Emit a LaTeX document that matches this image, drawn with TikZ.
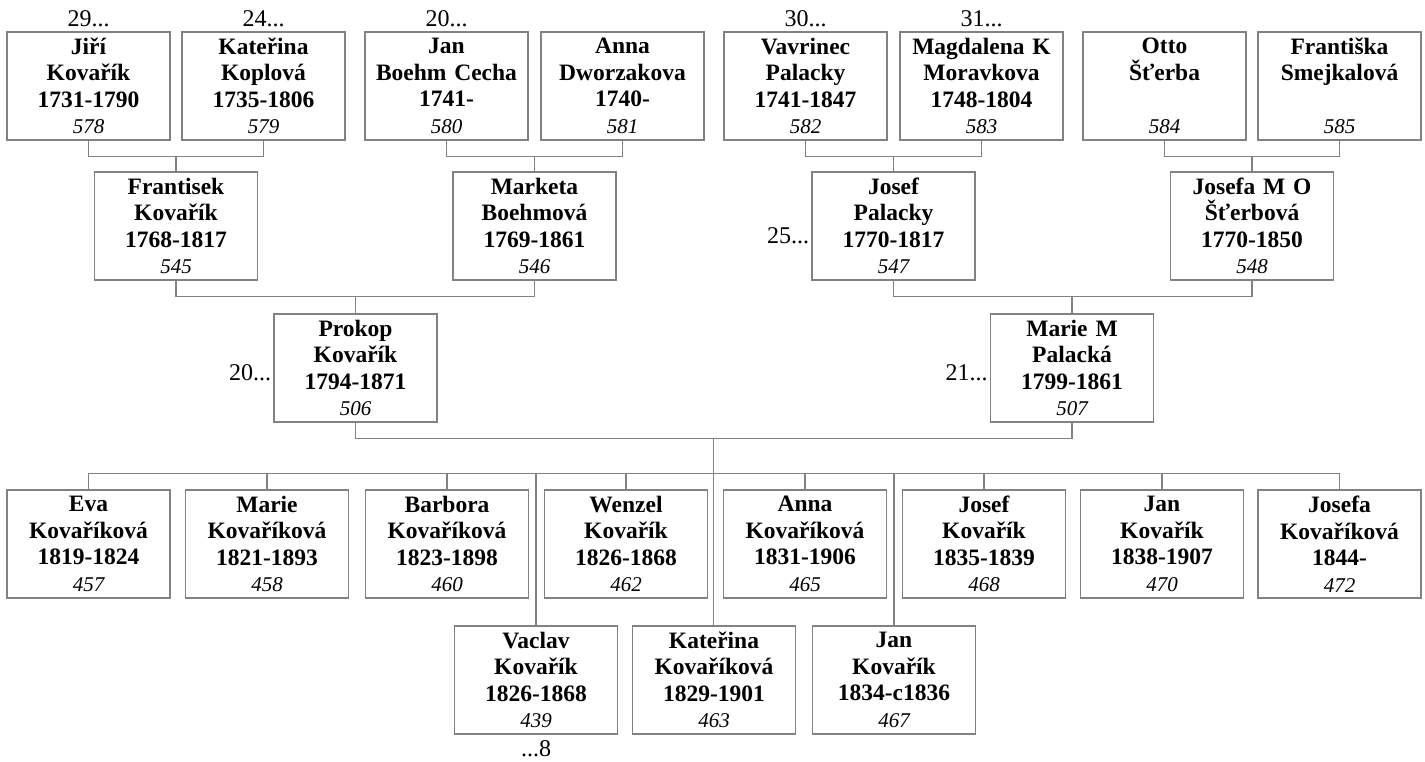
\documentclass[tikz,border=0pt]{standalone}
\usepackage{fontspec}
\setmainfont{Liberation Serif}
\usetikzlibrary{calc}
\newcommand{\who}[4]{#1\\#2\\#3\\{\mdseries\itshape\fontsize{21}{26.5}\selectfont #4}}
\begin{document}
\begin{tikzpicture}[x=1pt, y=-1pt,
  person/.style={draw=linegray, line width=1.2pt, minimum width=163pt, minimum height=108pt,
    text width=157pt, align=center, inner sep=0pt, font=\fontsize{23.5}{26.5}\selectfont\bfseries},
  link/.style={draw=linegray, line width=1.2pt},
  more/.style={font=\fontsize{24}{28}\selectfont, inner sep=2pt}]
  \definecolor{linegray}{RGB}{130,130,130}
  \useasboundingbox (0,0) rectangle (1425,761);
  % great-grandparents
  \node[person] (n578) at (88.5,86) {\who{Jiří}{Kovařík}{1731-1790}{578}};
  \node[person] (n579) at (263.5,86) {\who{Kateřina}{Koplová}{1735-1806}{579}};
  \node[person] (n580) at (446.5,86) {\who{Jan}{Boehm Cecha}{1741-}{580}};
  \node[person] (n581) at (622.5,86) {\who{Anna}{Dworzakova}{1740-}{581}};
  \node[person] (n582) at (805.5,86) {\who{Vavrinec}{Palacky}{1741-1847}{582}};
  \node[person] (n583) at (981.5,86) {\who{Magdalena K}{Moravkova}{1748-1804}{583}};
  \node[person] (n584) at (1164.5,86) {\who{Otto}{Šťerba}{~}{584}};
  \node[person] (n585) at (1339.5,86) {\who{Františka}{Smejkalová}{~}{585}};
  % grandparents
  \node[person] (n545) at (176,226) {\who{Frantisek}{Kovařík}{1768-1817}{545}};
  \node[person] (n546) at (534.5,226) {\who{Marketa}{Boehmová}{1769-1861}{546}};
  \node[person] (n547) at (893.5,226) {\who{Josef}{Palacky}{1770-1817}{547}};
  \node[person] (n548) at (1252,226) {\who{Josefa M O}{Šťerbová}{1770-1850}{548}};
  % parents
  \node[person] (n506) at (355.5,368) {\who{Prokop}{Kovařík}{1794-1871}{506}};
  \node[person] (n507) at (1072,368) {\who{Marie M}{Palacká}{1799-1861}{507}};
  % children
  \node[person] (n457) at (88.5,544) {\who{Eva}{Kovaříková}{1819-1824}{457}};
  \node[person] (n458) at (267,544) {\who{Marie}{Kovaříková}{1821-1893}{458}};
  \node[person] (n460) at (447,544) {\who{Barbora}{Kovaříková}{1823-1898}{460}};
  \node[person] (n462) at (626,544) {\who{Wenzel}{Kovařík}{1826-1868}{462}};
  \node[person] (n465) at (805,544) {\who{Anna}{Kovaříková}{1831-1906}{465}};
  \node[person] (n468) at (984,544) {\who{Josef}{Kovařík}{1835-1839}{468}};
  \node[person] (n470) at (1162,544) {\who{Jan}{Kovařík}{1838-1907}{470}};
  \node[person] (n472) at (1339.5,544) {\who{Josefa}{Kovaříková}{1844-}{472}};
  \node[person] (n439) at (536,680) {\who{Vaclav}{Kovařík}{1826-1868}{439}};
  \node[person] (n463) at (714,680) {\who{Kateřina}{Kovaříková}{1829-1901}{463}};
  \node[person] (n467) at (894,680) {\who{Jan}{Kovařík}{1834-c1836}{467}};

  % couples and their child
  \foreach \a/\b/\c in {n578/n579/n545, n580/n581/n546, n582/n583/n547,
      n584/n585/n548, n545/n546/n506, n547/n548/n507} {
    \draw[link] (\a.south) -- ++(0,16) coordinate (join) -| (\b.south);
    \draw[link] (\c.north) -- (\c.north |- join);
  }
  \draw[link] (n506.south) -- ++(0,16) coordinate (wed) -| (n507.south);
  \coordinate (mid) at ($(wed)!0.5!(n507.south |- wed)$);
  \draw[link] (n457.north) -- ++(0,-16) coordinate (bus) -| (n472.north);
  \foreach \k in {458,460,462,465,468,470,439,467}
    \draw[link] (n\k.north) -- (n\k.north |- bus);
  \draw[link] (mid) -- (mid |- n463.north);

  % more generations
  \node[more, anchor=south, yshift=2pt] (g29) at (n578.north) {29...};
  \node[more, anchor=south, yshift=2pt] (g24) at (n579.north) {24...};
  \node[more, anchor=south, yshift=2pt] (g20a) at (n580.north) {20...};
  \node[more, anchor=south, yshift=2pt] (g30) at (n582.north) {30...};
  \node[more, anchor=south, yshift=2pt] (g31) at (n583.north) {31...};
  \node[more, anchor=east] (g25) at ($(n547.west)+(0,10)$) {25...};
  \node[more, anchor=east] (g20b) at ($(n506.west)+(0,5)$) {20...};
  \node[more, anchor=east] (g21) at ($(n507.west)+(0,5)$) {21...};
  \node[more, anchor=north, yshift=-4pt] (g8) at (n439.south) {...8};
\end{tikzpicture}
\end{document}
